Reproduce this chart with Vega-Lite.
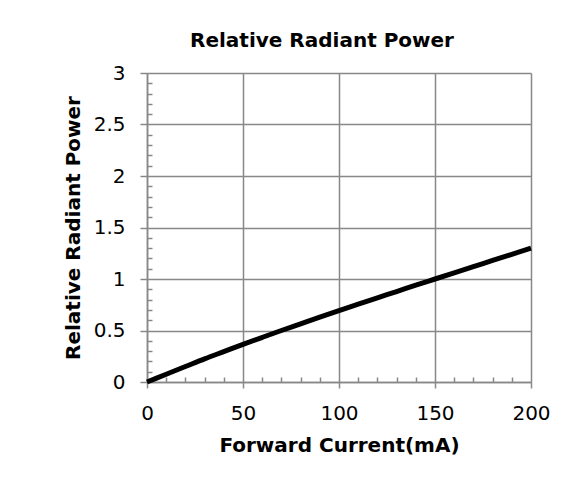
{
  "$schema": "https://vega.github.io/schema/vega-lite/v6.json",
  "width": 384,
  "height": 309,
  "autosize": {"type": "none"},
  "padding": {"left": 147, "top": 73, "right": 48, "bottom": 101},
  "background": "white",
  "title": {
    "text": "Relative Radiant Power",
    "font": "DejaVu Sans",
    "fontSize": 20,
    "fontWeight": "bold",
    "color": "black",
    "anchor": "middle",
    "dx": -17,
    "offset": 12
  },
  "data": {
    "values": [
      {"current": 0, "power": 0},
      {"current": 10, "power": 0.075},
      {"current": 20, "power": 0.15},
      {"current": 30, "power": 0.225},
      {"current": 40, "power": 0.295},
      {"current": 50, "power": 0.365},
      {"current": 60, "power": 0.433},
      {"current": 70, "power": 0.5},
      {"current": 80, "power": 0.565},
      {"current": 90, "power": 0.63},
      {"current": 100, "power": 0.693},
      {"current": 110, "power": 0.755},
      {"current": 120, "power": 0.817},
      {"current": 130, "power": 0.878},
      {"current": 140, "power": 0.94},
      {"current": 150, "power": 1.0},
      {"current": 160, "power": 1.06},
      {"current": 170, "power": 1.12},
      {"current": 180, "power": 1.18},
      {"current": 190, "power": 1.24},
      {"current": 200, "power": 1.3}
    ]
  },
  "mark": {"type": "line", "color": "black", "strokeWidth": 5, "interpolate": "monotone", "strokeCap": "butt"},
  "encoding": {
    "x": {
      "field": "current",
      "type": "quantitative",
      "scale": {"domain": [0, 200], "nice": false, "zero": false},
      "axis": {
        "title": "Forward Current(mA)",
        "values": [0,10,20,30,40,50,60,70,80,90,100,110,120,130,140,150,160,170,180,190,200],
        "labelExpr": "datum.value % 50 === 0 ? datum.label : ''",
        "tickSize": {"condition": {"test": "datum.value % 50 === 0", "value": 6}, "value": -5},
        "gridOpacity": {"condition": {"test": "datum.value % 50 === 0", "value": 1}, "value": 0},
        "labelPadding": 15,
        "titlePadding": 12
      }
    },
    "y": {
      "field": "power",
      "type": "quantitative",
      "scale": {"domain": [0, 3], "nice": false},
      "axis": {
        "title": "Relative Radiant Power",
        "values": [0,0.1,0.2,0.3,0.4,0.5,0.6,0.7,0.8,0.9,1,1.1,1.2,1.3,1.4,1.5,1.6,1.7,1.8,1.9,2,2.1,2.2,2.3,2.4,2.5,2.6,2.7,2.8,2.9,3],
        "format": ".1~f",
        "labelExpr": "abs(datum.value*2 - round(datum.value*2)) < 0.001 ? datum.label : ''",
        "tickSize": {"condition": {"test": "abs(datum.value*2 - round(datum.value*2)) < 0.001", "value": 7}, "value": -5},
        "gridOpacity": {"condition": {"test": "abs(datum.value*2 - round(datum.value*2)) < 0.001", "value": 1}, "value": 0},
        "labelPadding": 15,
        "titlePadding": 10
      }
    }
  },
  "config": {
    "view": {"stroke": null},
    "axis": {
      "grid": true,
      "gridColor": "#888888",
      "gridWidth": 1.5,
      "domainColor": "#888888",
      "domainWidth": 1.5,
      "tickColor": "#888888",
      "tickWidth": 1.5,
      "labelFont": "DejaVu Sans",
      "labelFontSize": 20,
      "labelColor": "black",
      "labelOverlap": false,
      "labelBound": false,
      "labelFlush": false,
      "titleFont": "DejaVu Sans",
      "titleFontSize": 20,
      "titleFontWeight": "bold",
      "titleColor": "black"
    }
  }
}
